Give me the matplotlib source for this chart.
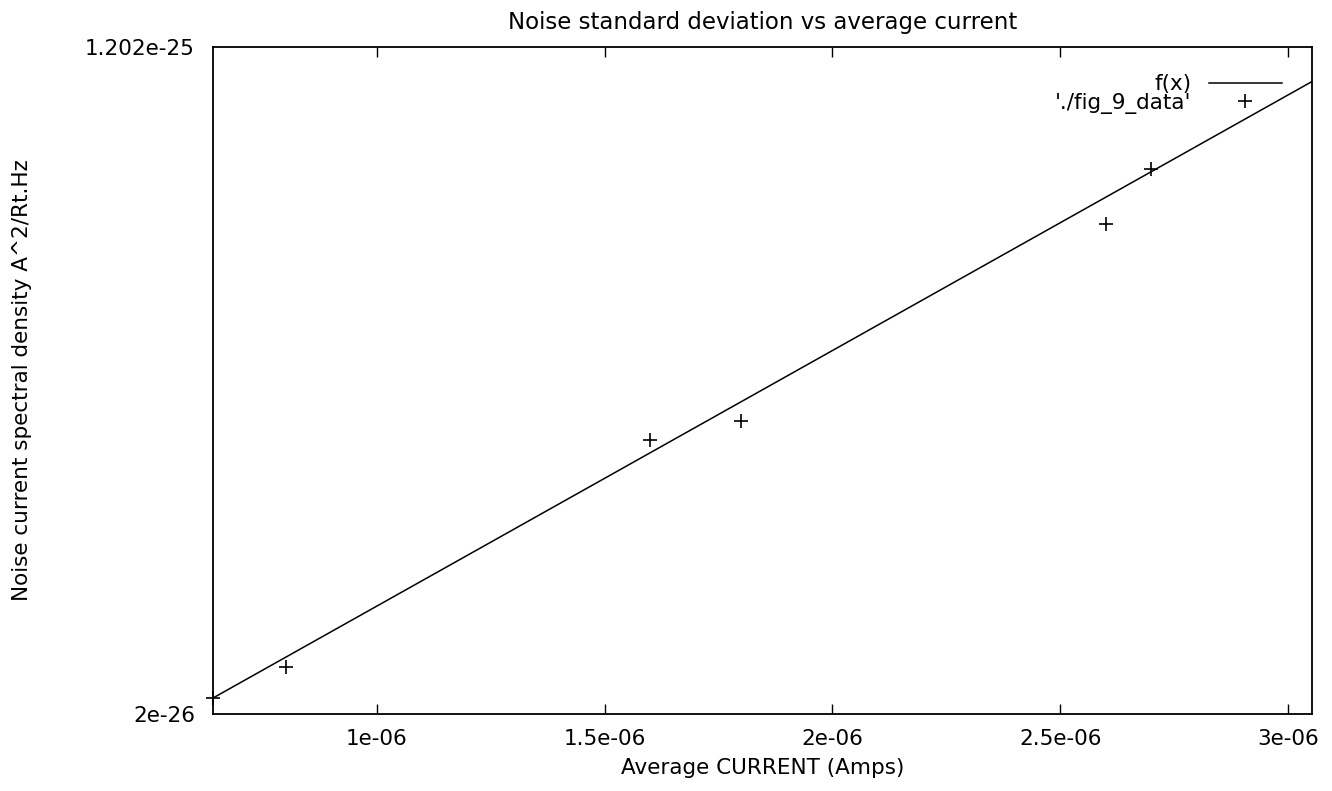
import matplotlib
matplotlib.use("Agg")
import matplotlib.pyplot as plt
import numpy as np

plt.rcParams['font.family'] = ['DejaVu Sans']

# ---- data ----
current = [0.64e-6, 0.8e-6, 1.6e-6, 1.8e-6, 2.6e-6, 2.7e-6]
noise = [2.24e-26, 2.70e-26, 6.12e-26, 6.40e-26, 9.36e-26, 10.18e-26]
fit_slope = 3.838e-20
fit_intercept = -2.16e-27
x_limits = [0.64e-6, 3.053e-6]
y_limits = [2e-26, 1.202e-25]
x_ticks = [1e-6, 1.5e-6, 2e-6, 2.5e-6, 3e-6]
x_tick_labels = ['1e-06', '1.5e-06', '2e-06', '2.5e-06', '3e-06']
y_ticks = [2e-26, 1.202e-25]
y_tick_labels = ['2e-26', '1.202e-25']
title = 'Noise standard deviation vs average current'
x_label = 'Average CURRENT (Amps)'
y_label = 'Noise current spectral density A^2/Rt.Hz'
legend_labels = ['f(x)', "'./fig_9_data'"]

W, H = 1332, 791
fig = plt.figure(figsize=(W / 100, H / 100), dpi=100)
L, R, T, B = 213, 1312, 47, 714
ax = fig.add_axes([L / W, 1 - B / H, (R - L) / W, (B - T) / H])

xs = np.linspace(x_limits[0], x_limits[1], 200)
ax.plot(xs, fit_slope * xs + fit_intercept, color='black', lw=1.1,
        label=legend_labels[0])
ax.plot(current, noise, linestyle='none', marker='+', color='black',
        markersize=10, markeredgewidth=1.2, clip_on=False,
        label=legend_labels[1])

ax.set_xlim(*x_limits)
ax.set_ylim(*y_limits)
ax.set_xticks(x_ticks)
ax.set_xticklabels(x_tick_labels)
ax.set_yticks(y_ticks)
ax.set_yticklabels(y_tick_labels)
ax.tick_params(axis='x', direction='in', top=True, length=7, width=1,
               labelsize=15.5, pad=11)
ax.tick_params(axis='y', direction='in', length=0, labelsize=15.5, pad=13)
for s in ax.spines.values():
    s.set_linewidth(1.3)

fig.text((L + R) / 2 / W, 1 - 22 / H, title, ha='center', va='center',
         fontsize=16.5)
fig.text((L + R) / 2 / W, 1 - 768 / H, x_label, ha='center', va='center',
         fontsize=15.5)
fig.text(22 / W, 1 - 380 / H, y_label, ha='center', va='center',
         rotation=90, fontsize=15.5)

leg = ax.legend(loc='center right', markerfirst=False, frameon=False,
                bbox_to_anchor=((1282 - L) / (R - L), (B - 94) / (B - T)),
                borderpad=0, borderaxespad=0, handlelength=3.4,
                handletextpad=0.8, labelspacing=-0.08, fontsize=15.5,
                numpoints=1)

fig.savefig('out.png', dpi=100)
